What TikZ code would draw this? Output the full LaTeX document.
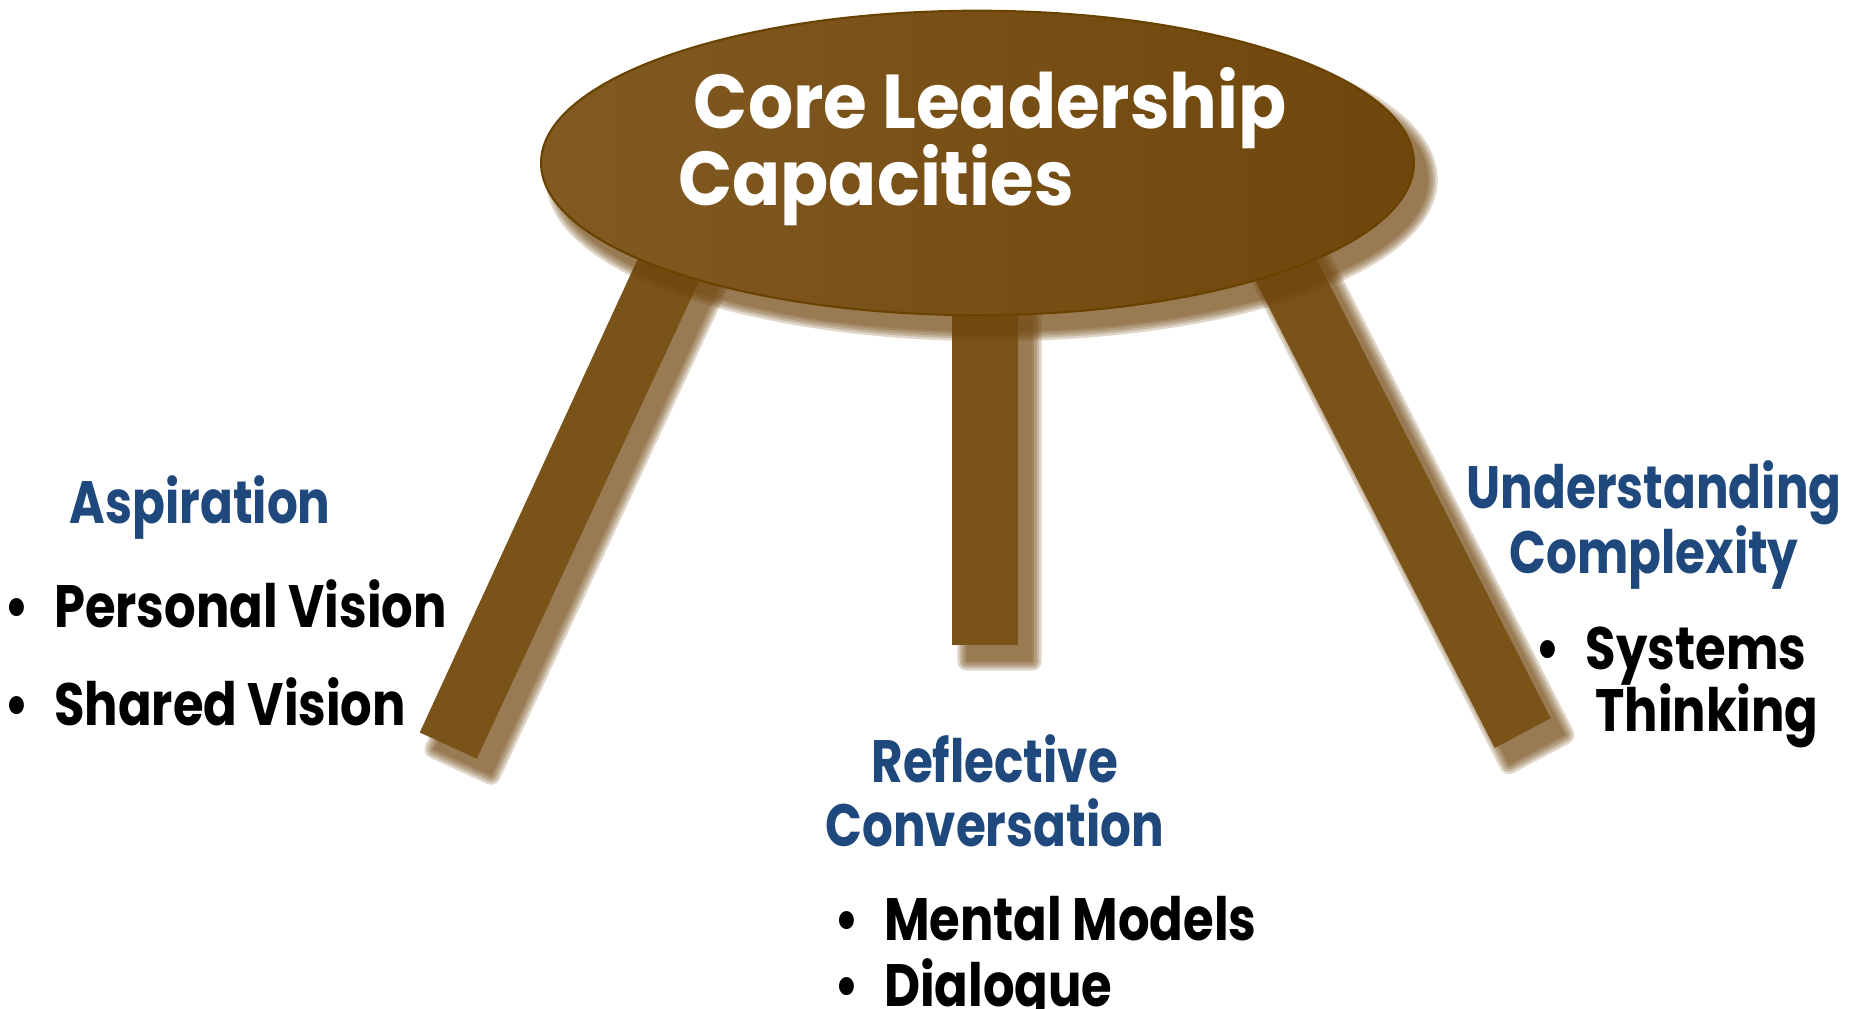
\documentclass[tikz,border=0pt]{standalone}
\usepackage{fontspec}
\setmainfont{Poppins}[FakeStretch=0.83]
\newfontfamily\seatfont{Poppins}[FakeStretch=0.93]
\newfontfamily\headfont{Poppins}[FakeStretch=0.81]
\usetikzlibrary{shapes.geometric}
\definecolor{woodlight}{HTML}{815A22}
\definecolor{wooddark}{HTML}{6F460B}
\definecolor{woodleg}{HTML}{7A5319}
\definecolor{woodedge}{HTML}{6A4200}
\definecolor{shadowbrown}{HTML}{70460F}
\definecolor{headblue}{HTML}{1F497D}
\tikzset{
    seat/.style = {left color=woodlight, right color=wooddark, draw=woodedge, line width=0.6pt},
    legbar/.style = {fill=woodleg},
    title/.style = {text=white, font=\seatfont\fontsize{21.7}{26}\selectfont\bfseries, inner sep=0pt},
    head/.style = {text=headblue, font=\headfont\fontsize{17}{20}\selectfont\bfseries, inner sep=0pt},
    item/.style = {text=black, font=\fontsize{17}{20}\selectfont\bfseries, inner sep=0pt},
}
% soft brown shadow under a closed path
\newcommand{\softshadow}[1]{%
  \foreach \w in {5.4,4,2.7,1.3,0.1}{%
    \begin{scope}[transparency group, opacity=.225, shift={(12,14)}]
      \path[fill=shadowbrown, draw=shadowbrown, line width=\w pt, line join=round] #1;
    \end{scope}}}
\newcommand{\bul}{\makebox[14.2pt][l]{\textbullet}}

\begin{document}
\begin{tikzpicture}[x=0.011891cm, y=-0.011891cm]
\useasboundingbox (0,0) rectangle (1560,848.5);

% legs
\softshadow{(544,201) -- (596,219) -- (401,638) -- (353,616) -- cycle}
\softshadow{(801,250) rectangle (856,542)}
\softshadow{(1046,217) -- (1097,198) -- (1304,604) -- (1257,629) -- cycle}
\path[legbar] (544,201) -- (596,219) -- (401,638) -- (353,616) -- cycle;
\path[legbar] (801,250) rectangle (856,542);
\path[legbar] (1046,217) -- (1097,198) -- (1304,604) -- (1257,629) -- cycle;

% seat
\softshadow{(822,137) ellipse [x radius=367, y radius=128]}
\path[seat] (822,137) ellipse [x radius=367, y radius=128];
\node[title, anchor=base west] (core) at (583,108) {Core Leadership};
\node[title, anchor=base west] (capa) at (570,173) {Capacities};

% left
\node[head, anchor=base west] (asp) at (58,440) {Aspiration};
\node[item, anchor=base west] (pvis) at (3,528) {\bul Personal Vision};
\node[item, anchor=base west] (svis) at (3,610) {\bul Shared Vision};

% middle
\node[head, anchor=base] (refl) at (836.5,658) {Reflective};
\node[head, anchor=base] (conv) at (836.5,712) {Conversation};
\node[item, anchor=base west] (ment) at (701,791) {\bul Mental Models};
\node[item, anchor=base west] (dial) at (701,846) {\bul Dialogue};

% right
\node[head, anchor=base] (unde) at (1391,428) {Understanding};
\node[head, anchor=base] (comp) at (1391,482) {Complexity};
\node[item, anchor=base west] (syst) at (1291,563) {\bul Systems};
\node[item, anchor=base west] (thin) at (1341,615) {Thinking};
\end{tikzpicture}
\end{document}
